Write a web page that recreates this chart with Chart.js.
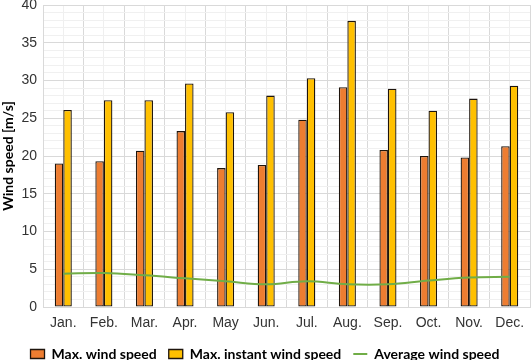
<!DOCTYPE html>
<html>
<head>
<meta charset="utf-8">
<script src="https://cdn.jsdelivr.net/npm/chart.js@4"></script>
<style>
html,body{margin:0;padding:0;background:#fff;}
#wrap{width:531px;height:360px;position:relative;}
</style>
</head>
<body>
<div id="wrap"><canvas id="c" width="531" height="360"></canvas></div>
<script>
const months = ["Jan.","Feb.","Mar.","Apr.","May","Jun.","Jul.","Aug.","Sep.","Oct.","Nov.","Dec."];
const maxWindSpeed = [19.0,19.3,20.7,23.3,18.4,18.8,24.8,29.1,20.8,20.0,19.8,21.3];
const maxInstantWindSpeed = [26.1,27.4,27.4,29.6,25.8,28.0,30.3,37.9,28.9,26.0,27.6,29.3];
const averageWindSpeed = [4.4,4.5,4.2,3.8,3.4,3.0,3.4,3.0,3.0,3.5,3.9,4.0];
const seriesNames = ["Max. wind speed","Max. instant wind speed","Average wind speed"];
const yTitle = "Wind speed [m/s]";

const tickFont = {family:"'Liberation Sans', Arial, sans-serif", size:14};
const boldFont = {family:"Lato, 'Open Sans', sans-serif", size:14, weight:'bold'};

new Chart(document.getElementById('c'), {
  data: {
    labels: months,
    datasets: [
      {type:'line', label: seriesNames[2], data: averageWindSpeed, borderColor:'#70AD47', backgroundColor:'#70AD47',
       borderWidth:2, pointRadius:0, tension:0.4, order:0},
      {type:'bar', label: seriesNames[0], data: maxWindSpeed, backgroundColor:'#ED7D31', borderColor:'#1e140c',
       borderWidth:1.3, borderSkipped:false, categoryPercentage:0.42, barPercentage:1, order:1},
      {type:'bar', label: seriesNames[1], data: maxInstantWindSpeed, backgroundColor:'#FFC000', borderColor:'#1e140c',
       borderWidth:1.3, borderSkipped:false, categoryPercentage:0.42, barPercentage:1, order:1}
    ]
  },
  options: {
    responsive:false,
    animation:false,
    devicePixelRatio:1,
    layout:{padding:{top:0,right:1,left:0,bottom:-11}},
    scales: {
      x: {
        type:'category', offset:true,
        afterFit(s){ s.height = 28; s.paddingRight = 0; s.paddingLeft = 0; },
        grid:{offset:true, color:'#d9d9d9', lineWidth:1, drawTicks:false},
        border:{display:true, color:'#d9d9d9'},
        ticks:{font:tickFont, color:'#333', padding:8, maxRotation:0, autoSkip:false}
      },
      x2: {
        type:'category', offset:true, position:'bottom', labels: months,
        afterFit(s){ s.height = 0; s.paddingRight = 0; s.paddingLeft = 0; },
        grid:{offset:false, color:'#efefef', lineWidth:1, drawTicks:false},
        border:{display:false},
        ticks:{display:false}
      },
      y: {
        min:0, max:40,
        afterFit(s){ s.width = 43; s.paddingTop = 5; s.paddingBottom = 0; },
        grid:{color:(c)=> (c.tick && c.tick.value % 5 === 0) ? '#d9d9d9' : '#f0f0f0', drawTicks:false},
        border:{display:true, color:'#d9d9d9'},
        ticks:{stepSize:1, autoSkip:false, font:tickFont, color:'#333', padding:6,
               callback:(v)=> (v % 5 === 0 ? String(v) : '')},
        title:{display:true, text:yTitle, font:boldFont, color:'#000', padding:{top:0,bottom:0}}
      }
    },
    plugins: {
      legend: {
        position:'bottom',
        labels: {
          usePointStyle:true, pointStyleWidth:14, boxHeight:9, padding:12,
          font:boldFont, color:'#000',
          sort:(a,b)=> {const ord=[1,2,0]; return ord.indexOf(a.datasetIndex)-ord.indexOf(b.datasetIndex);},
          generateLabels(chart){
            const items = Chart.defaults.plugins.legend.labels.generateLabels(chart);
            items.forEach(it => {
              const ds = chart.data.datasets[it.datasetIndex];
              it.pointStyle = ds.type === 'line' ? 'line' : 'rect';
              if (ds.type === 'line') { it.lineWidth = 2; it.strokeStyle = '#70AD47'; }
            });
            return items;
          }
        }
      },
      tooltip:{enabled:false}
    }
  }
});
</script>
</body>
</html>
